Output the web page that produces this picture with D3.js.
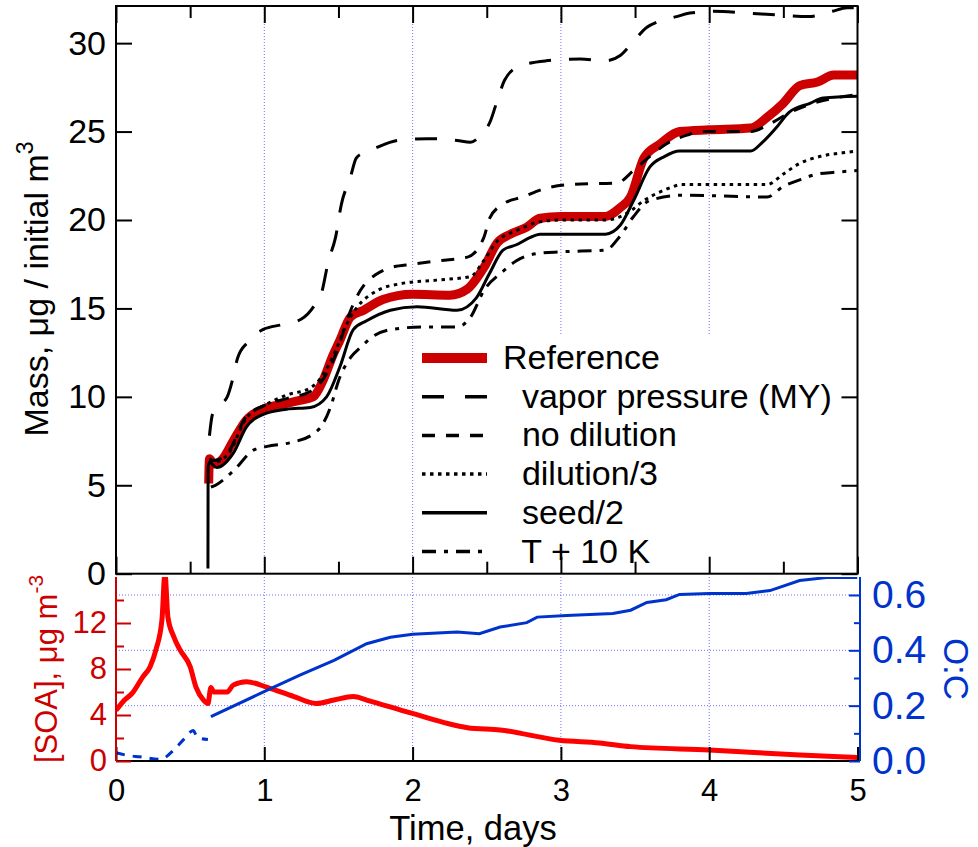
<!DOCTYPE html>
<html>
<head>
<meta charset="utf-8">
<script src="https://cdn.jsdelivr.net/npm/d3@7"></script>
<style>
  body { margin: 0; background: #fff; }
  svg { font-family: Arial, "Liberation Sans", sans-serif; }
</style>
</head>
<body>
<svg id="chart" width="978" height="847"></svg>
<script>
// ---- data (time in days) ----
var refT = [0.625, 0.63, 0.66, 0.72, 0.79, 0.88, 0.99, 1.13, 1.24, 1.33, 1.40, 1.46, 1.51, 1.58, 1.67, 1.80, 2.00, 2.25, 2.37, 2.48, 2.57, 2.66, 2.77, 2.86, 3.00, 3.30, 3.40, 3.47, 3.56, 3.67, 3.80, 4.00, 4.28, 4.39, 4.50, 4.61, 4.73, 4.84, 5.00];
var refV = [5.1, 6.5, 6.2, 6.5, 7.5, 8.7, 9.3, 9.6, 9.8, 10.0, 11.0, 12.3, 13.2, 14.5, 14.9, 15.5, 15.8, 15.75, 16.1, 17.3, 18.7, 19.2, 19.6, 20.1, 20.2, 20.2, 20.7, 21.3, 23.5, 24.3, 25.0, 25.1, 25.2, 25.8, 26.6, 27.6, 27.8, 28.2, 28.2];

var vapT = [0.63, 0.65, 0.68, 0.75, 0.79, 0.82, 0.89, 0.99, 1.13, 1.25, 1.34, 1.39, 1.43, 1.48, 1.52, 1.58, 1.62, 1.67, 1.73, 1.90, 2.10, 2.30, 2.39, 2.46, 2.52, 2.58, 2.62, 2.72, 2.90, 3.13, 3.30, 3.40, 3.48, 3.58, 3.65, 3.78, 3.87, 4.03, 4.25, 4.45, 4.67, 4.83, 4.93, 5.00];
var vapV = [7.8, 9.0, 9.4, 10.0, 11.1, 12.2, 13.1, 13.8, 14.1, 14.4, 15.2, 16.0, 17.6, 19.0, 20.9, 22.4, 23.5, 23.8, 24.0, 24.5, 24.6, 24.5, 24.4, 24.8, 25.5, 27.0, 27.9, 28.7, 29.0, 29.1, 29.0, 29.3, 30.0, 30.9, 31.2, 31.5, 31.7, 31.8, 31.7, 31.6, 31.5, 31.8, 32.0, 32.0];

var noDilT = [0.63, 0.66, 0.75, 0.88, 1.00, 1.15, 1.31, 1.42, 1.50, 1.56, 1.62, 1.68, 1.75, 1.85, 2.00, 2.18, 2.37, 2.48, 2.52, 2.61, 2.74, 2.90, 3.05, 3.38, 3.49, 3.60, 3.71, 3.85, 3.94, 4.28, 4.40, 4.55, 4.70, 4.85, 5.00];
var noDilV = [6.5, 6.4, 6.8, 8.9, 9.5, 9.9, 10.3, 11.3, 12.8, 14.4, 15.6, 16.4, 16.9, 17.3, 17.5, 17.7, 17.9, 19.0, 20.1, 20.9, 21.3, 21.8, 22.0, 22.1, 22.8, 23.6, 24.3, 24.8, 25.0, 25.0, 25.4, 26.1, 26.6, 26.9, 27.1];

var dil3T = [0.63, 0.66, 0.75, 0.88, 1.02, 1.15, 1.31, 1.40, 1.48, 1.55, 1.62, 1.76, 1.92, 2.16, 2.39, 2.48, 2.57, 2.70, 2.86, 3.00, 3.30, 3.45, 3.56, 3.70, 3.82, 4.39, 4.50, 4.61, 4.75, 4.90, 5.00];
var dil3V = [6.4, 6.3, 6.7, 8.8, 9.6, 10.1, 10.5, 11.3, 12.6, 14.0, 15.0, 16.0, 16.4, 16.6, 16.8, 17.7, 18.8, 19.4, 19.9, 20.0, 20.0, 20.4, 21.1, 21.7, 22.0, 22.0, 22.6, 23.2, 23.6, 23.8, 23.9];

var seedT = [0.620, 0.621, 0.63, 0.68, 0.79, 0.88, 0.99, 1.15, 1.31, 1.42, 1.51, 1.60, 1.69, 1.85, 2.03, 2.30, 2.43, 2.52, 2.61, 2.70, 2.79, 2.86, 3.00, 3.30, 3.40, 3.49, 3.60, 3.70, 3.80, 4.28, 4.36, 4.45, 4.54, 4.68, 4.77, 5.00];
var seedV = [0.3, 6.0, 6.3, 6.0, 6.8, 8.3, 9.0, 9.3, 9.4, 10.0, 11.7, 13.8, 14.3, 14.9, 15.1, 14.9, 15.6, 17.0, 18.3, 18.6, 19.0, 19.2, 19.2, 19.2, 19.7, 21.1, 23.0, 23.6, 23.9, 23.9, 24.4, 25.2, 26.1, 26.6, 26.9, 27.0];

var warmT = [0.64, 0.67, 0.79, 0.93, 1.02, 1.17, 1.33, 1.39, 1.45, 1.50, 1.58, 1.65, 1.73, 1.85, 2.07, 2.30, 2.39, 2.48, 2.61, 2.70, 2.84, 3.00, 3.30, 3.40, 3.49, 3.60, 3.82, 4.39, 4.50, 4.62, 4.73, 4.85, 5.00];
var warmV = [4.9, 5.0, 5.8, 7.0, 7.2, 7.4, 7.9, 8.4, 9.5, 10.9, 12.2, 12.8, 13.4, 13.8, 13.95, 13.95, 14.5, 16.0, 17.1, 17.7, 18.1, 18.2, 18.3, 19.1, 20.2, 21.1, 21.4, 21.3, 21.9, 22.3, 22.6, 22.7, 22.8];

var soaT = [0, 0.05, 0.11, 0.18, 0.23, 0.27, 0.31, 0.33, 0.35, 0.39, 0.43, 0.50, 0.54, 0.59, 0.62, 0.64, 0.66, 0.70, 0.75, 0.79, 0.88, 1.02, 1.20, 1.35, 1.47, 1.60, 1.69, 1.98, 2.37, 2.59, 2.99, 3.26, 3.47, 4.00, 4.61, 5.00];
var soaV = [4.4, 5.2, 5.9, 7.3, 8.2, 9.7, 12.3, 16.3, 12.5, 10.8, 9.7, 8.2, 6.4, 5.3, 5.0, 6.4, 6.0, 6.0, 6.0, 6.6, 6.9, 6.4, 5.6, 5.0, 5.3, 5.6, 5.3, 4.2, 2.9, 2.7, 1.8, 1.57, 1.25, 0.96, 0.52, 0.3];

var ocEarlyT = [0, 0.08, 0.16, 0.30, 0.39, 0.46, 0.52, 0.55, 0.62];
var ocEarlyV = [0.03, 0.02, 0.015, 0.006, 0.04, 0.08, 0.11, 0.085, 0.078];

var ocT = [0.64, 1.02, 1.24, 1.47, 1.69, 1.85, 2.00, 2.30, 2.45, 2.59, 2.77, 2.84, 3.04, 3.35, 3.47, 3.58, 3.71, 3.80, 4.00, 4.25, 4.41, 4.61, 4.79, 5.00];
var ocV = [0.16, 0.256, 0.31, 0.364, 0.424, 0.447, 0.458, 0.466, 0.46, 0.484, 0.5, 0.52, 0.526, 0.533, 0.545, 0.573, 0.583, 0.602, 0.605, 0.605, 0.616, 0.652, 0.663, 0.663];

var massTicks = [0, 5, 10, 15, 20, 25, 30];
var timeTicks = [0, 1, 2, 3, 4, 5];
var timeMinor = [0.5, 1.5, 2.5, 3.5, 4.5];
var soaTicks = [0, 4, 8, 12];
var soaMinor = [2, 6, 10, 14];
var ocTicks = [0, 0.2, 0.4, 0.6];
var ocMinor = [0.1, 0.3, 0.5];

var legendLabels = ["Reference", "  vapor pressure (MY)", "  no dilution", "  dilution/3", "  seed/2", "  T + 10 K"];

// ---- layout ----
var left = 116, right = 857.5, ocAxisX = 860;
var svg = d3.select("#chart");

var x = d3.scaleLinear().domain([0, 5]).range([left, right]);
var y = d3.scaleLinear().domain([0, 32.1]).range([573.7, 6]);
var ySoa = d3.scaleLinear().domain([0, 16]).range([761, 577]);
var yOc = d3.scaleLinear().domain([0, 0.665]).range([761, 577]);

function pairs(t, v) { return t.map(function(d, i) { return [d, v[i]]; }); }

var defs = svg.append("defs");
defs.append("clipPath").attr("id", "clipTop").append("rect")
  .attr("x", left).attr("y", y.range()[1]).attr("width", right - left).attr("height", y.range()[0] - y.range()[1]);
defs.append("clipPath").attr("id", "clipBot").append("rect")
  .attr("x", left).attr("y", 577).attr("width", right - left).attr("height", 184);

var gridColor = "#7070ff";

// ---- top panel ----
var topPanel = svg.append("g");
topPanel.selectAll(".vgrid").data([1, 2, 3, 4]).enter().append("line")
  .attr("x1", function(d) { return x(d); }).attr("x2", function(d) { return x(d); })
  .attr("y1", y.range()[1]).attr("y2", y.range()[0])
  .attr("stroke", gridColor).attr("stroke-width", 1).attr("stroke-dasharray", "1,2");

var massLine = d3.line()
  .x(function(d) { return x(d[0]); })
  .y(function(d) { return y(d[1]); })
  .curve(d3.curveMonotoneX);

var series = [
  {t: refT, v: refV, color: "#cc0000", width: 9, dash: null},
  {t: vapT, v: vapV, color: "#000", width: 3, dash: "22,18"},
  {t: noDilT, v: noDilV, color: "#000", width: 3, dash: "13,11"},
  {t: dil3T, v: dil3V, color: "#000", width: 3, dash: "3.5,4.5"},
  {t: seedT, v: seedV, color: "#000", width: 3, dash: null},
  {t: warmT, v: warmV, color: "#000", width: 3, dash: "14,8,4,8"}
];

var lines = topPanel.append("g").attr("clip-path", "url(#clipTop)");
series.forEach(function(s) {
  lines.append("path")
    .datum(pairs(s.t, s.v))
    .attr("d", massLine)
    .attr("fill", "none")
    .attr("stroke", s.color)
    .attr("stroke-width", s.width)
    .attr("stroke-dasharray", s.dash);
});

// legend
var legend = topPanel.append("g");
legend.append("rect")
  .attr("x", 414).attr("y", 336).attr("width", right - 414 - 1).attr("height", 236)
  .attr("fill", "#fff");
var rows = legend.selectAll(".row").data(series).enter().append("g")
  .attr("transform", function(d, i) { return "translate(0," + (358 + i * 38.7) + ")"; });
rows.append("line")
  .attr("x1", 422).attr("x2", 487).attr("y1", 0).attr("y2", 0)
  .attr("stroke", function(d) { return d.color; })
  .attr("stroke-width", function(d, i) { return i === 0 ? 10 : 3.5; })
  .attr("stroke-dasharray", function(d, i) { return i === 1 ? "22,21" : d.dash; });
rows.append("text")
  .attr("x", 503).attr("y", 11)
  .style("white-space", "pre")
  .attr("font-size", 34)
  .text(function(d, i) { return legendLabels[i]; });

// top frame + axes
topPanel.append("rect")
  .attr("x", left).attr("y", y.range()[1]).attr("width", right - left).attr("height", y.range()[0] - y.range()[1])
  .attr("fill", "none").attr("stroke", "#000").attr("stroke-width", 2);

function clean(g) { g.select(".domain").remove(); }

topPanel.append("g").attr("transform", "translate(" + left + ",0)")
  .call(d3.axisLeft(y).tickValues(massTicks).tickSize(-16).tickPadding(10))
  .call(clean)
  .call(function(g) {
    g.selectAll("line").attr("stroke-width", 2);
    g.selectAll("text").attr("font-size", 34).attr("font-family", null).attr("fill", "#000");
  });
topPanel.append("g").attr("transform", "translate(" + right + ",0)")
  .call(d3.axisRight(y).tickValues(massTicks).tickSize(-16).tickFormat(""))
  .call(clean).selectAll("line").attr("stroke-width", 2);

[[y.range()[1], "top"], [y.range()[0], "bottom"]].forEach(function(p) {
  var mk = p[1] === "top" ? d3.axisTop : d3.axisBottom;
  topPanel.append("g").attr("transform", "translate(0," + p[0] + ")")
    .call(mk(x).tickValues(timeTicks).tickSize(-17).tickFormat(""))
    .call(clean).selectAll("line").attr("stroke-width", 2);
  topPanel.append("g").attr("transform", "translate(0," + p[0] + ")")
    .call(mk(x).tickValues(timeMinor).tickSize(-12).tickFormat(""))
    .call(clean).selectAll("line").attr("stroke-width", 2);
});

topPanel.append("text")
  .attr("transform", "translate(48,289) rotate(-90)")
  .attr("text-anchor", "middle")
  .attr("font-size", 34)
  .text("Mass, μg / initial m")
  .append("tspan").attr("dy", -15).attr("font-size", 23).text("3");

// ---- bottom panel ----
var bot = svg.append("g");
var soaRed = "#cc0000", ocBlue = "#0033cc";

bot.selectAll(".vgrid").data([1, 2, 3, 4]).enter().append("line")
  .attr("x1", function(d) { return x(d); }).attr("x2", function(d) { return x(d); })
  .attr("y1", 577).attr("y2", 761)
  .attr("stroke", gridColor).attr("stroke-width", 1).attr("stroke-dasharray", "1,2");
bot.selectAll(".hgrid").data([0.2, 0.4, 0.6]).enter().append("line")
  .attr("x1", left).attr("x2", ocAxisX)
  .attr("y1", function(d) { return yOc(d); }).attr("y2", function(d) { return yOc(d); })
  .attr("stroke", gridColor).attr("stroke-width", 1).attr("stroke-dasharray", "1,2");

var botLines = bot.append("g").attr("clip-path", "url(#clipBot)");
botLines.append("path")
  .datum(pairs(soaT, soaV))
  .attr("d", d3.line().x(function(d) { return x(d[0]); }).y(function(d) { return ySoa(d[1]); }).curve(d3.curveMonotoneX))
  .attr("fill", "none").attr("stroke", "#ff0000").attr("stroke-width", 5);

var ocLine = d3.line().x(function(d) { return x(d[0]); }).y(function(d) { return yOc(d[1]); });
botLines.append("path")
  .datum(pairs(ocEarlyT, ocEarlyV))
  .attr("d", ocLine.curve(d3.curveMonotoneX))
  .attr("fill", "none").attr("stroke", ocBlue).attr("stroke-width", 3).attr("stroke-dasharray", "9,8");
botLines.append("path")
  .datum(pairs(ocT, ocV))
  .attr("d", ocLine.curve(d3.curveLinear))
  .attr("fill", "none").attr("stroke", ocBlue).attr("stroke-width", 3);

// bottom x axis
bot.append("line").attr("x1", left).attr("x2", right).attr("y1", 761).attr("y2", 761)
  .attr("stroke", "#000").attr("stroke-width", 2);
bot.append("g").attr("transform", "translate(0,761)")
  .call(d3.axisBottom(x).tickValues(timeTicks).tickSize(-14).tickPadding(18).tickFormat(d3.format("d")))
  .call(clean)
  .call(function(g) {
    g.selectAll("line").attr("stroke-width", 2);
    g.selectAll("text").attr("font-size", 31).attr("font-family", null).attr("fill", "#000");
  });

// SOA axis (left, red)
bot.append("line").attr("x1", left).attr("x2", left).attr("y1", 577).attr("y2", 761)
  .attr("stroke", soaRed).attr("stroke-width", 2);
bot.append("g").attr("transform", "translate(" + left + ",0)")
  .call(d3.axisLeft(ySoa).tickValues(soaTicks).tickSize(-15).tickPadding(9))
  .call(clean)
  .call(function(g) {
    g.selectAll("line").attr("stroke", soaRed).attr("stroke-width", 2);
    g.selectAll("text").attr("font-size", 31).attr("font-family", null).attr("fill", soaRed);
  });
bot.append("g").attr("transform", "translate(" + left + ",0)")
  .call(d3.axisLeft(ySoa).tickValues(soaMinor).tickSize(-8).tickFormat(""))
  .call(clean).selectAll("line").attr("stroke", soaRed).attr("stroke-width", 2);

// O:C axis (right, blue)
bot.append("line").attr("x1", ocAxisX).attr("x2", ocAxisX).attr("y1", 577).attr("y2", 761)
  .attr("stroke", ocBlue).attr("stroke-width", 2);
bot.append("g").attr("transform", "translate(" + ocAxisX + ",0)")
  .call(d3.axisRight(yOc).tickValues(ocTicks).tickSize(-11).tickPadding(12).tickFormat(d3.format(".1f")))
  .call(clean)
  .call(function(g) {
    g.selectAll("line").attr("stroke", ocBlue).attr("stroke-width", 2);
    g.selectAll("text").attr("font-size", 39).attr("font-family", null).attr("fill", ocBlue);
  });
bot.append("g").attr("transform", "translate(" + ocAxisX + ",0)")
  .call(d3.axisRight(yOc).tickValues(ocMinor).tickSize(-6).tickFormat(""))
  .call(clean).selectAll("line").attr("stroke", ocBlue).attr("stroke-width", 2);

// axis titles
var soaTitle = bot.append("text")
  .attr("transform", "translate(57,669) rotate(-90)")
  .attr("text-anchor", "middle")
  .attr("font-size", 31)
  .attr("fill", soaRed)
  .text("[SOA], μg m");
soaTitle.append("tspan").attr("dy", -14).attr("font-size", 21).text("-3");

bot.append("text")
  .attr("transform", "translate(944,669) rotate(90)")
  .attr("text-anchor", "middle")
  .attr("font-size", 35)
  .attr("fill", ocBlue)
  .text("O:C");

bot.append("text")
  .attr("x", 473).attr("y", 840)
  .attr("text-anchor", "middle")
  .attr("font-size", 34.5)
  .text("Time, days");
</script>
</body>
</html>
